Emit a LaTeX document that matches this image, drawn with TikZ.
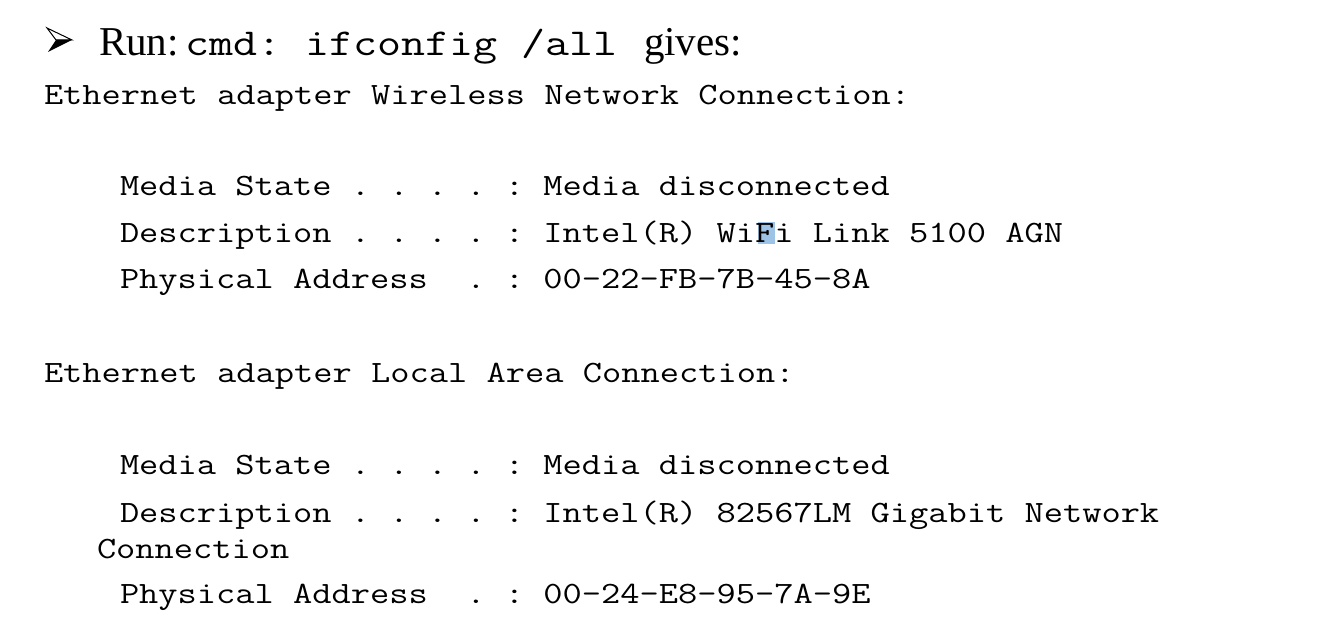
\documentclass[tikz,border=0pt]{standalone}
\usepackage{fontspec}
\usepackage{graphicx}
\newfontfamily\tmsfont{Liberation Serif}
\definecolor{hlblue}{RGB}{157,195,230}
\newcommand{\bodytt}[1]{\scalebox{1.2055}[1]{\fontsize{31}{36}\selectfont\ttfamily\frenchspacing #1}}
\newcommand{\titlett}[1]{\scalebox{1.2265}[1]{\fontsize{38}{44}\selectfont\ttfamily\frenchspacing #1}}
\newcommand{\titlerm}[1]{{\fontsize{41}{48}\selectfont\tmsfont #1}}
\begin{document}
\begin{tikzpicture}[x=1pt,y=-1pt,
  txt/.style={anchor=base west, inner sep=0pt, outer sep=0pt}]
\useasboundingbox (0,0) rectangle (1321,631);
\fill[white] (0,0) rectangle (1321,631);
% bullet arrowhead
\draw[line width=1pt, line join=miter, fill=white] (47,28) -- (72,40) -- (56,40) -- cycle;
\fill[black, line join=miter] (56,40) -- (72,40) -- (48,52) -- cycle;
% title
\node[txt] (run) at (99,56) {\titlerm{Run:}};
\node[txt] (cmd) at (185,56) {\titlett{cmd: ifconfig /all}};
\node[txt] (gives) at (644,56) {\titlerm{gives:}};
% highlight behind F
\fill[hlblue] (758,222) rectangle (775,244);
% body
\node[txt] (l1) at (44,105) {\bodytt{Ethernet adapter Wireless Network Connection:}};
\node[txt] (l2) at (120,196) {\bodytt{Media State . . . . : Media disconnected}};
\node[txt] (l3) at (120,242) {\bodytt{Description . . . . : Intel(R) WiFi Link 5100 AGN}};
\node[txt] (l4) at (120,288) {\bodytt{Physical Address~~. : 00-22-FB-7B-45-8A}};
\node[txt] (l5) at (44,382) {\bodytt{Ethernet adapter Local Area Connection:}};
\node[txt] (l6) at (120,474) {\bodytt{Media State . . . . : Media disconnected}};
\node[txt] (l7) at (120,522) {\bodytt{Description . . . . : Intel(R) 82567LM Gigabit Network}};
\node[txt] (l8) at (97,558) {\bodytt{Connection}};
\node[txt] (l9) at (120,603) {\bodytt{Physical Address~~. : 00-24-E8-95-7A-9E}};
\end{tikzpicture}
\end{document}
